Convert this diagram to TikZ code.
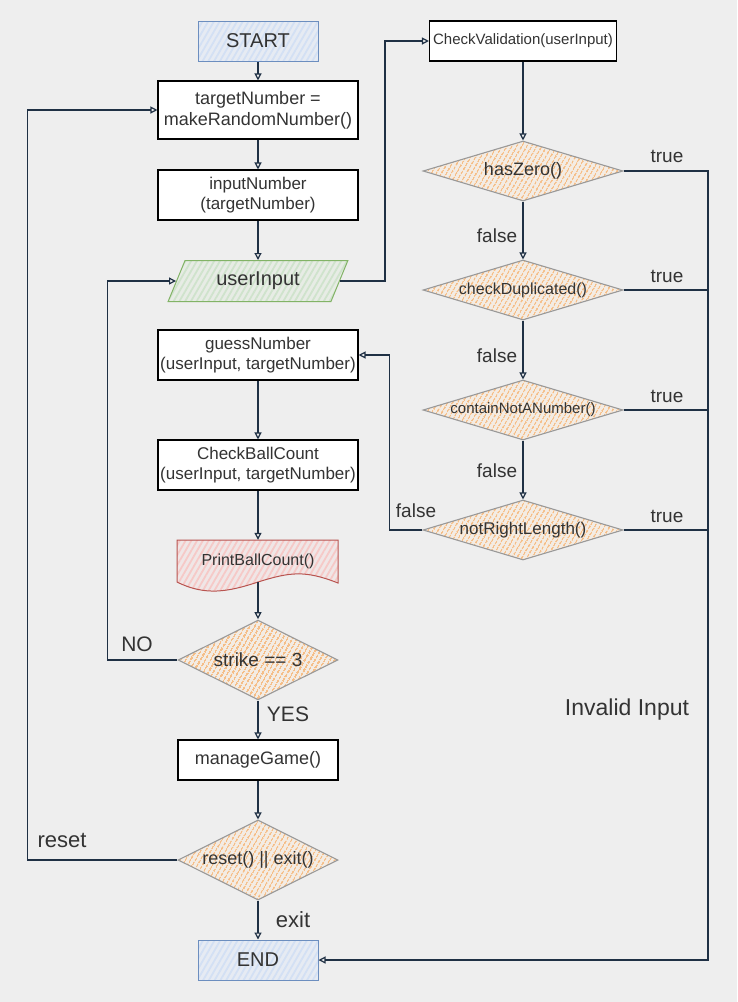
\documentclass[tikz,border=0pt]{standalone}
\usepackage{fontspec}
\setmainfont{Liberation Sans}
\usetikzlibrary{shapes.geometric,arrows.meta,patterns.meta}

\definecolor{bg}{HTML}{EEEEEE}
\definecolor{txt}{HTML}{333333}
\definecolor{edge}{HTML}{1F3044}
\definecolor{termline}{HTML}{6C8EBF}
\definecolor{termfill}{HTML}{E6EBF3}
\definecolor{termhatch}{HTML}{D3E0F4}
\definecolor{inline}{HTML}{82B366}
\definecolor{infill}{HTML}{E7ECE5}
\definecolor{inhatch}{HTML}{CFE3CC}
\definecolor{docline}{HTML}{B85450}
\definecolor{docfill}{HTML}{F0E6E6}
\definecolor{dochatch}{HTML}{F6C9C7}
\definecolor{decline}{HTML}{999999}
\definecolor{decfill}{HTML}{F3ECE4}
\definecolor{dechatch}{HTML}{F5BE88}

\begin{document}
\begin{tikzpicture}[
  x=1pt, y=-1pt,
  every node/.style={text=txt},
  box/.style={rectangle, draw=black, fill=white, line width=1.1pt, minimum width=200, minimum height=50, inner sep=1pt, align=center, font=\fontsize{17}{20}\selectfont},
  term/.style={rectangle, draw=termline, line width=1pt, preaction={fill=termfill}, pattern={Lines[angle=60,distance=5pt,line width=1.8pt]}, pattern color=termhatch, minimum width=120, minimum height=40, font=\fontsize{20}{24}\selectfont},
  inp/.style={trapezium, trapezium left angle=67, trapezium right angle=113, trapezium stretches=true, draw=inline, line width=1pt, preaction={fill=infill}, pattern={Lines[angle=60,distance=5pt,line width=1.8pt]}, pattern color=inhatch, minimum width=180, minimum height=41, font=\fontsize{20}{24}\selectfont},
  docshape/.style={draw=docline, line width=1pt, preaction={fill=docfill}, pattern={Lines[angle=60,distance=5pt,line width=1.8pt]}, pattern color=dochatch},
  dec/.style={diamond, draw=decline, line width=1.1pt, preaction={fill=decfill}, pattern={Lines[angle=60,distance=4pt,line width=1.7pt]}, pattern color=dechatch, inner sep=0pt, aspect=3.33, minimum width=200, minimum height=60, font=\fontsize{18}{22}\selectfont},
  lbl/.style={font=\fontsize{19}{22}\selectfont},
  >={Triangle[open,length=7pt,width=7pt]},
  flow/.style={->, draw=edge, line width=1.2pt}
]

\fill[bg] (0,0) rectangle (737,1002);
\useasboundingbox (0,0) rectangle (737,1002);

% Main column
\node[term] (start) at (258,41) {START};
\node[box, minimum height=58, font=\fontsize{18}{21}\selectfont] (tn) at (258,110) {targetNumber =\\makeRandomNumber()};
\node[box] (in) at (258,195) {inputNumber\\(targetNumber)};
\node[inp] (ui) at (258,281) {\raisebox{-3pt}{userInput}};
\node[box] (gn) at (258,355) {guessNumber\\(userInput, targetNumber)};
\node[box] (cb) at (258,465) {CheckBallCount\\(userInput, targetNumber)};
\path[docshape] (177,540) -- (338,540) -- (338,583) .. controls (305,570) and (290,572) .. (258,582) .. controls (228,592) and (205,596) .. (177,582) -- cycle;
\node[minimum width=161, minimum height=42, inner sep=0pt, font=\fontsize{16}{19}\selectfont] (pb) at (258,561) {\raisebox{3pt}{PrintBallCount()}};
\node[dec, aspect=2, minimum width=160, minimum height=80, font=\fontsize{19}{22}\selectfont] (st) at (258,660) {strike == 3};
\node[box, minimum width=160, minimum height=40, font=\fontsize{18}{22}\selectfont] (mg) at (258,760) {manageGame()};
\node[dec, aspect=2, minimum width=160, minimum height=80] (rx) at (258,860) {reset() || exit()};
\node[term] (fin) at (258,960) {END};

% Validation column
\node[box, minimum width=187, minimum height=40, font=\fontsize{15}{18}\selectfont] (cv) at (523,41) {CheckValidation(userInput)};
\node[dec] (hz) at (523,171) {hasZero()};
\node[dec, font=\fontsize{16}{19}\selectfont] (cd) at (523,290) {checkDuplicated()};
\node[dec, font=\fontsize{15}{18}\selectfont] (cn) at (523,410) {containNotANumber()};
\node[dec, font=\fontsize{17}{20}\selectfont] (nr) at (523,530) {notRightLength()};
\coordinate (inv) at (708,960);

% Arrows
\draw[flow] (start) -- (tn);
\draw[flow] (tn) -- (in);
\draw[flow] (in) -- (ui);
\draw[flow] (ui.east) -- ++(45,0) |- (cv.west);
\draw[flow] (gn) -- (cb);
\draw[flow] (cb) -- (pb.north);
\draw[flow] (pb.south) -- (st);
\draw[flow] (st) -- (mg);
\draw[flow] (mg) -- (rx);
\draw[flow] (rx) -- (fin);
\draw[flow] (st.west) -- ++(-70,0) |- (ui.west);
\draw[flow] (rx.west) -- ++(-150,0) |- (tn.west);
\draw[flow] (cv) -- (hz);
\draw[flow] (hz) -- (cd);
\draw[flow] (cd) -- (cn);
\draw[flow] (cn) -- (nr);
\draw[flow] (nr.west) -- ++(-33,0) |- (gn.east);
\draw[flow] (hz.east) -| (inv) -- (fin.east);
\draw[draw=edge, line width=1.2pt] (cd.east) -- (cd.east -| inv);
\draw[draw=edge, line width=1.2pt] (cn.east) -- (cn.east -| inv);
\draw[draw=edge, line width=1.2pt] (nr.east) -- (nr.east -| inv);

% Edge labels
\node[lbl] (t1) at (667,156) {true};
\node[lbl] (t2) at (667,276) {true};
\node[lbl] (t3) at (667,396) {true};
\node[lbl] (t4) at (667,516) {true};
\node[lbl] (f1) at (497,236) {false};
\node[lbl] (f2) at (497,356) {false};
\node[lbl] (f3) at (497,471) {false};
\node[lbl] (f4) at (416,511) {false};
\node[lbl, font=\fontsize{23}{27}\selectfont] (ii) at (627,710) {Invalid Input};
\node[lbl, font=\fontsize{21}{25}\selectfont] (no) at (137,644) {NO};
\node[lbl, font=\fontsize{21}{25}\selectfont] (yes) at (288,714) {YES};
\node[lbl, font=\fontsize{22}{26}\selectfont] (rs) at (62,840) {reset};
\node[lbl, font=\fontsize{22}{26}\selectfont] (ex) at (293,920) {exit};

\end{tikzpicture}
\end{document}
